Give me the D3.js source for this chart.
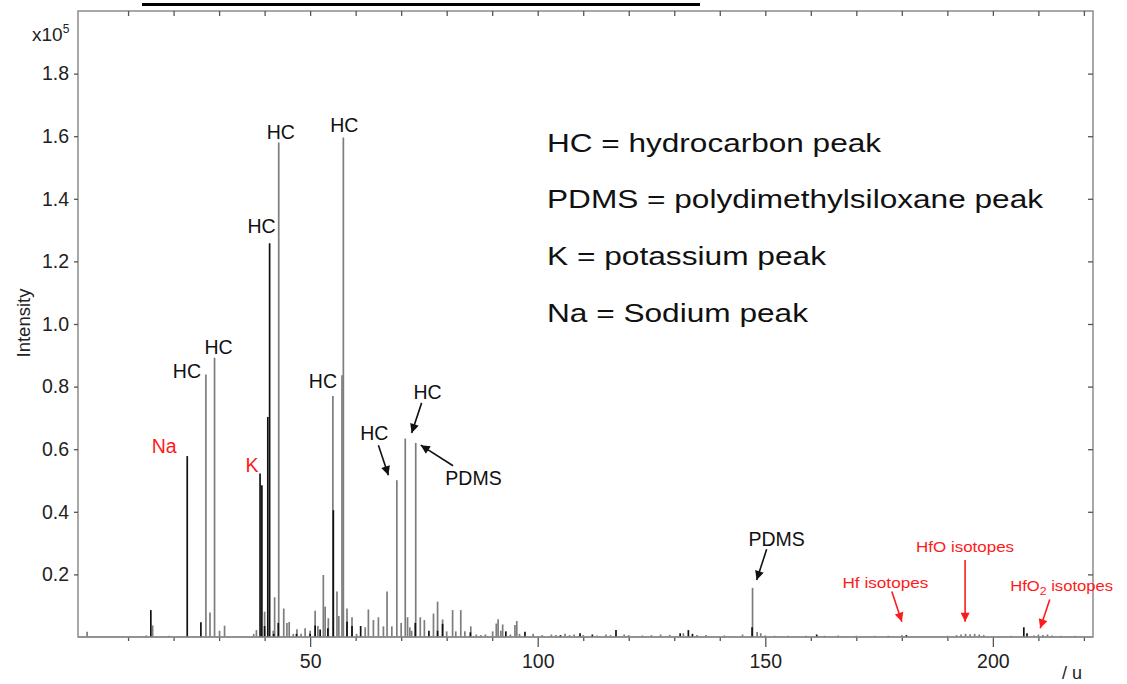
<!DOCTYPE html>
<html>
<head>
<meta charset="utf-8">
<script src="https://cdn.jsdelivr.net/npm/d3@7"></script>
<style>
  body { margin: 0; background: #fff; }
  svg { display: block; font-family: "Liberation Sans", Arial, sans-serif; }
</style>
</head>
<body>
<svg id="chart" width="1127" height="684"></svg>
<script>
// Positive-ion mass spectrum, intensity in units of 10^5 counts.
// Dark peaks (drawn in black, on top)
const darkMass = [15, 23, 26, 39, 39.4, 40, 40.7, 41.1, 42, 43, 47, 50, 51.1, 52.2, 53.9, 55.1,
  58.1, 59.2, 61.1, 73.1, 76.1, 78, 79.1, 85.2, 93, 97.2, 105, 109.3, 112, 117.2, 131.3, 133.1,
  134, 147.1, 161.3, 181, 206.8, 207.5];
const darkIntensity = [0.086, 0.578, 0.047, 0.522, 0.485, 0.035, 0.703, 1.258, 0.01, 0.045, 0.01, 0.01, 0.037, 0.024, 0.028, 0.405,
  0.049, 0.035, 0.035, 0.045, 0.02, 0.02, 0.042, 0.015, 0.018, 0.017, 0.006, 0.012, 0.008, 0.022, 0.012, 0.022,
  0.01, 0.031, 0.008, 0.006, 0.031, 0.012];

// Light peaks (drawn in grey)
const lightMass = [1, 14, 15.4, 19, 27.1, 28, 29, 30.1, 31.2, 37.6, 38.2, 40, 41.9, 42.2, 43.1, 44.2, 44.9, 45.4,
  46.3, 47.1, 48, 48.9, 50, 51.1, 51.7, 52.9, 53.3, 54, 55, 55.9, 56.3, 57, 57.3, 58.1, 59.2, 60.2,
  62.1, 62.8, 63.9, 65, 66.1, 66.9, 67.95, 69.05, 70, 70.9, 71.4, 71.9, 72.3, 73.2, 74.2, 75.1, 77.1,
  78, 79.1, 80, 81.3, 82, 83.1, 84, 85.3, 86.5, 87.5, 88.5, 90.1, 90.9, 91.3, 91.9, 92.3, 94, 95, 95.4,
  96, 99, 101, 103, 104, 106, 107, 108, 110, 113, 115, 116, 119, 120, 123, 125, 127, 129, 132, 135,
  137, 141, 145, 147.2, 148.2, 149, 150, 152, 155, 159, 163, 166, 170, 174, 177, 180, 190, 192, 193, 194,
  195, 196, 197, 198, 204, 209, 210, 211, 212, 213, 215, 218];
const lightIntensity = [0.017, 0.005, 0.037, 0.004, 0.839, 0.078, 0.892, 0.02, 0.036, 0.01, 0.022, 0.081, 0.02, 0.127, 1.58, 0.091, 0.045, 0.048,
  0.01, 0.025, 0.01, 0.028, 0.02, 0.084, 0.035, 0.198, 0.097, 0.06, 0.77, 0.145, 0.067, 0.836, 1.596, 0.091, 0.063, 0.01,
  0.031, 0.088, 0.054, 0.063, 0.034, 0.145, 0.034, 0.501, 0.045, 0.634, 0.063, 0.031, 0.02, 0.62, 0.063, 0.054, 0.075,
  0.113, 0.056, 0.018, 0.086, 0.018, 0.086, 0.018, 0.034, 0.008, 0.006, 0.008, 0.018, 0.043, 0.057, 0.02, 0.04, 0.008, 0.038, 0.051,
  0.01, 0.01, 0.006, 0.008, 0.006, 0.01, 0.006, 0.008, 0.006, 0.005, 0.008, 0.006, 0.008, 0.006, 0.005, 0.006, 0.008, 0.007, 0.012, 0.006,
  0.006, 0.005, 0.008, 0.157, 0.016, 0.012, 0.005, 0.004, 0.004, 0.004, 0.004, 0.005, 0.004, 0.004, 0.004, 0.006, 0.004, 0.006, 0.008, 0.01,
  0.009, 0.01, 0.008, 0.006, 0.004, 0.005, 0.008, 0.006, 0.008, 0.005, 0.004, 0.004];

// Axis ticks
const xMajorTicks = [50, 100, 150, 200];
const xMinorTicks = [10, 20, 30, 40, 60, 70, 80, 90, 110, 120, 130, 140, 160, 170, 180, 190, 210, 220];
const yTicks = [0.2, 0.4, 0.6, 0.8, 1.0, 1.2, 1.4, 1.6, 1.8];

// Key text
const keyLines = ["HC = hydrocarbon peak", "PDMS = polydimethylsiloxane peak", "K = potassium peak", "Na = Sodium peak"];
const keyWidths = [334, 496, 279, 261];

// Peak labels placed next to a peak top: [text, mass, intensity, dx, dy, anchor, colour]
const peakLabels = [
  ["HC", 43.1, 1.58, 2, -3, "middle", "#111"],
  ["HC", 57.3, 1.596, 1, -5, "middle", "#111"],
  ["HC", 41.1, 1.258, -8, -10, "middle", "#111"],
  ["HC", 29, 0.892, 4, -4, "middle", "#111"],
  ["HC", 27.1, 0.839, -19, 4, "middle", "#111"],
  ["HC", 55, 0.77, -10, -8, "middle", "#111"],
  ["Na", 23, 0.578, -23, -3, "middle", "#ff1a1a"],
  ["K", 39, 0.522, -8, -2, "middle", "#ff1a1a"]
];

// Arrowed labels, in data units:
// [text, labelMass, labelValue, fromMass, fromValue, toMass, toValue, colour, size, textWidth]
const arrowLabels = [
  ["HC", 64.1, 0.628, 65.0, 0.613, 67.2, 0.517, "#111", 19.5, 0],
  ["HC", 75.8, 0.759, 74.5, 0.748, 72.3, 0.652, "#111", 19.5, 0],
  ["PDMS", 85.9, 0.485, 81.4, 0.547, 74.3, 0.613, "#111", 19.5, 0],
  ["PDMS", 152.5, 0.291, 150.3, 0.28, 148.1, 0.182, "#111", 19.5, 0],
  ["Hf isotopes", 176.4, 0.155, 177.8, 0.145, 180.0, 0.049, "#ff1a1a", 15, 86],
  ["HfO isotopes", 193.9, 0.272, 193.9, 0.246, 193.9, 0.049, "#ff1a1a", 15, 98],
  ["HfO2 isotopes", 203.8, 0.147, 212.5, 0.12, 210.4, 0.028, "#ff1a1a", 15, 103]
];

const svg = d3.select("#chart");
const plotL = 78, plotR = 1093, plotT = 11, plotB = 637;

const x = d3.scaleLinear().domain([-1, 222]).range([plotL, plotR]);
const y = d3.scaleLinear().domain([0, 2]).range([plotB, plotT]);

// header rule
svg.append("rect").attr("x", 142).attr("y", 3).attr("width", 558).attr("height", 3).attr("fill", "#000");

// frame
svg.append("rect").attr("x", plotL).attr("y", plotT).attr("width", plotR - plotL).attr("height", plotB - plotT)
  .attr("fill", "none").attr("stroke", "#8c8c8c").attr("stroke-width", 1.5);

// peaks
const light = d3.zip(lightMass, lightIntensity);
const dark = d3.zip(darkMass, darkIntensity);
svg.append("g").selectAll("line").data(light).join("line")
  .attr("x1", d => x(d[0])).attr("x2", d => x(d[0]))
  .attr("y1", y(0)).attr("y2", d => y(d[1]))
  .attr("stroke", "#7d7d7d").attr("stroke-width", 1.7);
svg.append("g").selectAll("line").data(dark).join("line")
  .attr("x1", d => x(d[0])).attr("x2", d => x(d[0]))
  .attr("y1", y(0)).attr("y2", d => y(d[1]))
  .attr("stroke", "#111").attr("stroke-width", 1.7);

// axes
function styleAxis(g) {
  g.select(".domain").remove();
  g.selectAll(".tick line").attr("stroke", "#555").attr("stroke-width", 1.3);
  g.selectAll(".tick text").attr("fill", "#222").attr("font-family", "Liberation Sans, Arial, sans-serif");
}
svg.append("g").attr("transform", `translate(0,${plotB})`)
  .call(d3.axisBottom(x).tickValues(xMajorTicks).tickSize(10).tickPadding(7).tickFormat(d3.format("d")))
  .call(styleAxis).call(g => g.selectAll(".tick text").attr("font-size", 19.5));
svg.append("g").attr("transform", `translate(0,${plotB})`)
  .call(d3.axisBottom(x).tickValues(xMinorTicks).tickSize(4).tickFormat(""))
  .call(styleAxis);
svg.append("g").attr("transform", `translate(0,${plotT})`)
  .call(d3.axisTop(x).tickValues(xMinorTicks.concat(xMajorTicks)).tickSize(-5).tickFormat(""))
  .call(styleAxis);
svg.append("g").attr("transform", `translate(${plotL},0)`)
  .call(d3.axisLeft(y).tickValues(yTicks).tickSize(4).tickPadding(5).tickFormat(d3.format(".1f")))
  .call(styleAxis).call(g => g.selectAll(".tick text").attr("font-size", 19.5));
svg.append("g").attr("transform", `translate(${plotR},0)`)
  .call(d3.axisRight(y).tickValues(yTicks).tickSize(-5).tickFormat(""))
  .call(styleAxis);

// baseline drawn over the feet of the peaks
svg.append("line").attr("x1", plotL).attr("x2", plotR).attr("y1", plotB).attr("y2", plotB)
  .attr("stroke", "#8c8c8c").attr("stroke-width", 1.5);

// exponent and axis titles
const expo = svg.append("text").attr("x", 32).attr("y", 41).attr("font-size", 19).attr("fill", "#222");
expo.append("tspan").text("x10");
expo.append("tspan").attr("dy", -8).attr("font-size", 12).text("5");
svg.append("text").attr("transform", "translate(30,323) rotate(-90)").attr("text-anchor", "middle")
  .attr("font-size", 18.5).attr("fill", "#222").text("Intensity");
svg.append("text").attr("x", 1072).attr("y", 679).attr("text-anchor", "middle")
  .attr("font-size", 18).attr("fill", "#222").text("/ u");

// key
svg.append("g").selectAll("text").data(keyLines).join("text")
  .attr("x", 547).attr("y", (d, i) => 151.5 + i * 56.8)
  .attr("font-size", 25).attr("fill", "#111")
  .attr("textLength", (d, i) => keyWidths[i]).attr("lengthAdjust", "spacingAndGlyphs")
  .text(d => d);

// peak labels
svg.append("g").selectAll("text").data(peakLabels).join("text")
  .attr("x", d => x(d[1]) + d[3]).attr("y", d => y(d[2]) + d[4])
  .attr("text-anchor", d => d[5]).attr("font-size", 19.5).attr("fill", d => d[6])
  .text(d => d[0]);

// arrowed labels
const defs = svg.append("defs");
["#111", "#ff1a1a"].forEach((c, i) => {
  defs.append("marker").attr("id", "head" + i).attr("viewBox", "0 0 10 10")
    .attr("refX", 10).attr("refY", 5).attr("markerWidth", 11).attr("markerHeight", 9)
    .attr("markerUnits", "userSpaceOnUse").attr("orient", "auto")
    .append("path").attr("d", "M0,0L10,5L0,10Z").attr("fill", c);
});
const arrows = svg.append("g");
arrowLabels.forEach(a => {
  const [txt, lm, lv, fm, fv, tm, tv, col, size, tw] = a;
  arrows.append("line")
    .attr("x1", x(fm)).attr("y1", y(fv)).attr("x2", x(tm)).attr("y2", y(tv))
    .attr("stroke", col).attr("stroke-width", 1.6)
    .attr("marker-end", `url(#head${col === "#111" ? 0 : 1})`);
  const t = arrows.append("text").attr("x", x(lm)).attr("y", y(lv))
    .attr("text-anchor", txt.startsWith("HfO2") ? "start" : "middle")
    .attr("font-size", size).attr("fill", col);
  if (tw) t.attr("textLength", tw).attr("lengthAdjust", "spacingAndGlyphs");
  if (txt === "HfO2 isotopes") {
    t.append("tspan").text("HfO");
    t.append("tspan").attr("dy", 4).attr("font-size", 11).text("2");
    t.append("tspan").attr("dy", -4).text(" isotopes");
  } else {
    t.text(txt);
  }
});
</script>
</body>
</html>
